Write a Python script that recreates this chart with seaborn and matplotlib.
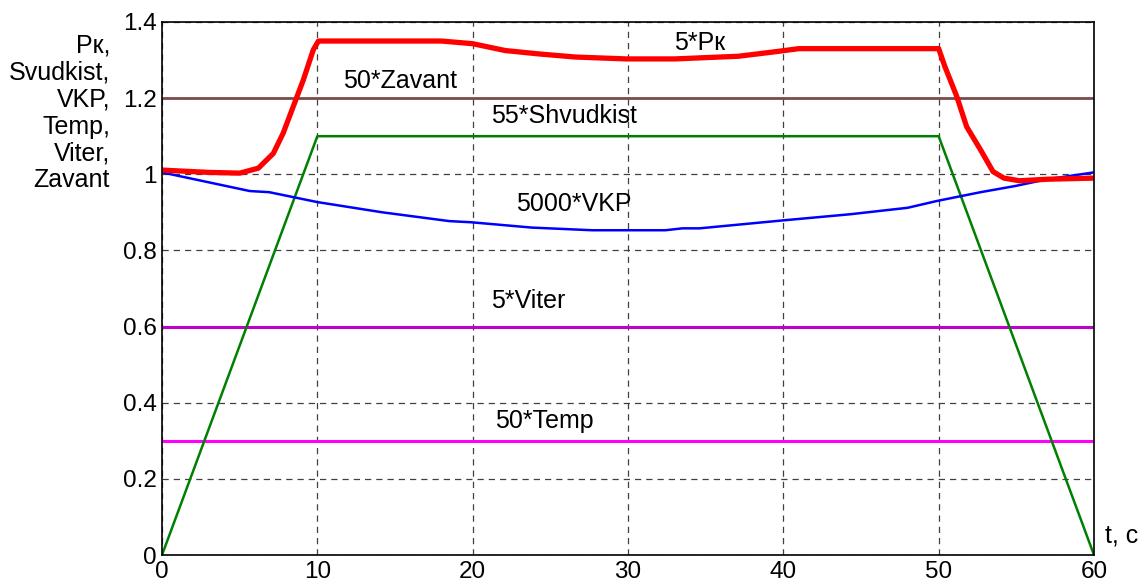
import numpy as np
import pandas as pd
import matplotlib
matplotlib.use("Agg")
import matplotlib.pyplot as plt
import seaborn as sns

# Values
t_pk = [0, 3, 5.0, 6.2, 7.17, 7.8, 8.45, 9.1, 9.74, 10.07, 18, 20, 22.1, 24.3, 26.6, 29.9, 33, 37.1, 39.5, 41,
        50, 50.4, 51.17, 51.8, 52.7, 53.5, 54.2, 55.2, 57, 60]
pk = [1.011, 1.005, 1.003, 1.016, 1.055, 1.108, 1.178, 1.248, 1.327, 1.35, 1.35, 1.343, 1.325, 1.316, 1.308, 1.303, 1.303, 1.31, 1.322, 1.33,
      1.33, 1.283, 1.204, 1.125, 1.064, 1.007, 0.99, 0.983, 0.987, 0.99]

t_vkp = [0, 5.65, 6.9, 10, 14.2, 18.5, 19.9, 23.8, 27.7, 32.4, 33.5, 34.6, 40, 44.3, 48, 49.9, 52.7, 54.9, 57, 60]
vkp = [1.005, 0.956, 0.953, 0.927, 0.9, 0.877, 0.874, 0.86, 0.853, 0.853, 0.858, 0.858, 0.879, 0.895, 0.912, 0.93, 0.953, 0.969, 0.987, 1.005]

t_shv = [0, 10, 50, 60]
shv = [0, 1.1, 1.1, 0]

t_const = [0, 60]
zavant = [1.2, 1.2]
viter = [0.6, 0.6]
temp = [0.3, 0.3]

labels = ["5*Pк", "50*Zavant", "55*Shvudkist", "5000*VKP", "5*Viter", "50*Temp"]
label_x = [34.6, 15.3, 25.9, 26.5, 23.6, 24.6]
label_y = [1.345, 1.245, 1.153, 0.921, 0.666, 0.353]

sns.set_style("white")
plt.rcParams['font.family'] = ['Liberation Sans', 'DejaVu Sans']
plt.rcParams['text.color'] = 'black'
plt.rcParams['xtick.color'] = 'black'
plt.rcParams['ytick.color'] = 'black'

fig = plt.figure(figsize=(11.48, 5.86), dpi=100)
ax = fig.add_axes([162/1148, 31/586, 932/1148, 533/586])

ax.grid(True, color='0.25', linestyle=(0, (5, 4)), linewidth=0.9)
ax.set_axisbelow(True)

sns.lineplot(x=t_const, y=zavant, ax=ax, color='#7a4c4c', linewidth=2)
sns.lineplot(x=t_const, y=viter, ax=ax, color='#c000c8', linewidth=2.2)
sns.lineplot(x=t_const, y=temp, ax=ax, color='#ff00ff', linewidth=2.2)
sns.lineplot(x=t_shv, y=shv, ax=ax, color='#008000', linewidth=1.8)
sns.lineplot(x=t_vkp, y=vkp, ax=ax, color='#0000ff', linewidth=1.8)
sns.lineplot(x=t_pk, y=pk, ax=ax, color='#ff0000', linewidth=3.8)

for s, x, y in zip(labels, label_x, label_y):
    ax.text(x, y, s, ha='center', va='center', fontsize=18, color='black')

ax.set_xlim(0, 60)
ax.set_ylim(0, 1.4)
ax.set_xticks(np.arange(0, 61, 10))
ax.set_yticks(np.arange(0, 1.41, 0.2))
ax.set_xticklabels([str(v) for v in range(0, 61, 10)])
ax.set_yticklabels(['0', '0.2', '0.4', '0.6', '0.8', '1', '1.2', '1.4'])
ax.tick_params(labelsize=17.5, direction='in', length=5, color='black', pad=4)
for sp in ax.spines.values():
    sp.set_color('black')
    sp.set_linewidth(1.2)

fig.text(110/1148, 1 - 34/586, "Pк,\nSvudkist,\nVKP,\nTemp,\nViter,\nZavant",
         ha='right', va='top', fontsize=18, linespacing=1.15, color='black')
fig.text(1105/1148, 1 - 535/586, "t, c", ha='left', va='center', fontsize=18, color='black')

fig.savefig("out.png", dpi=100)
